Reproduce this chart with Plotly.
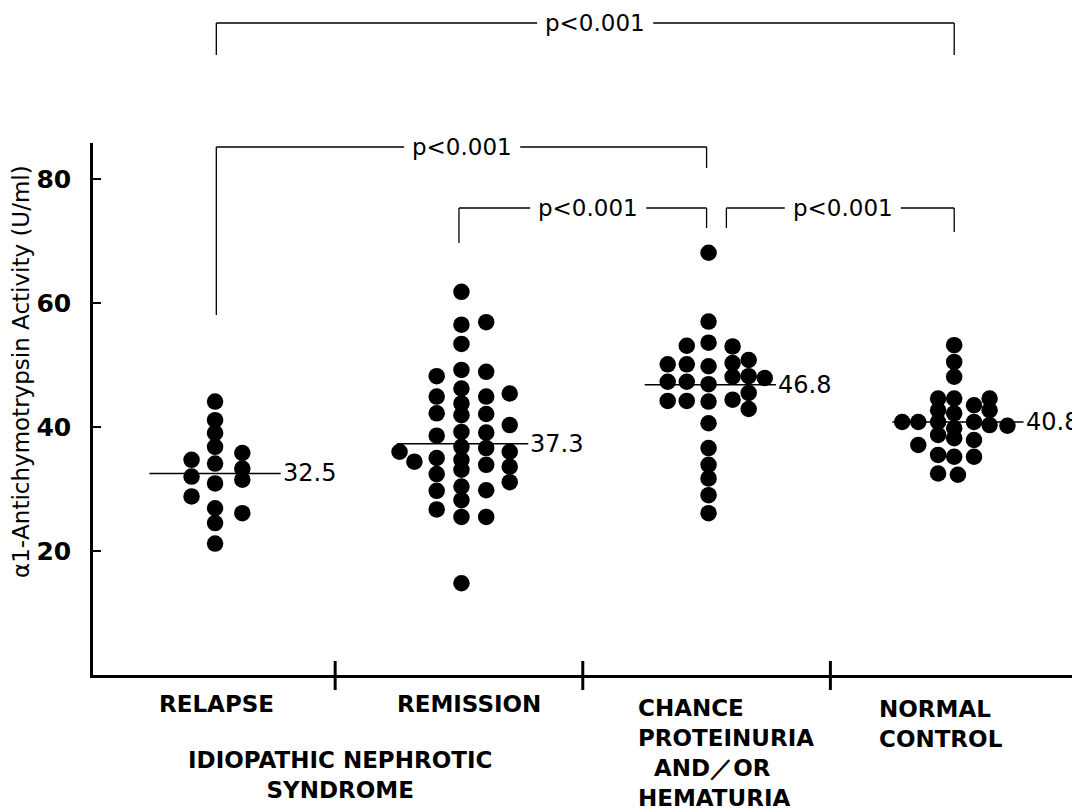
import plotly.graph_objects as go

# ---------------- data ----------------
groups = ["RELAPSE", "REMISSION", "CHANCE", "NORMAL"]
means = [32.5, 37.3, 46.8, 40.8]
mean_labels = ["32.5", "37.3", "46.8", "40.8"]

relapse_vals = [34.7, 32.0, 28.8, 44.1, 41.1, 39.0, 36.8, 34.1, 30.9, 26.9, 24.5, 21.2, 35.8, 33.3, 31.5, 26.1]
relapse_offs = [-0.08, -0.08, -0.08, 0.015, 0.015, 0.015, 0.015, 0.015, 0.015, 0.015, 0.015, 0.015,
                0.125, 0.125, 0.125, 0.125]

remission_vals = [36.0, 34.4,
                  48.2, 44.9, 42.2, 38.6, 35.0, 32.4, 29.7, 26.7,
                  61.8, 56.5, 53.4, 49.2, 46.2, 43.8, 41.9, 39.2, 36.8, 34.7, 33.1, 30.4, 28.2, 25.5, 14.8,
                  56.9, 48.9, 44.9, 42.1, 39.1, 36.6, 33.9, 29.8, 25.5,
                  45.4, 40.3, 36.0, 33.6, 31.1]
remission_offs = [-0.24, -0.18] + [-0.09] * 8 + [0.01] * 15 + [0.11] * 9 + [0.205] * 5

chance_vals = [68.1, 57.0, 53.6, 49.8, 46.9, 44.1, 40.6, 36.6, 33.9, 31.7, 29.0, 26.1,
               53.1, 50.1, 47.3, 44.2,
               50.1, 47.3, 44.2,
               53.0, 50.3, 48.1, 44.4,
               50.8, 48.2, 45.5, 42.9,
               47.9]
chance_offs = [0.008] * 12 + [-0.08] * 4 + [-0.157] * 3 + [0.105] * 4 + [0.17] * 4 + [0.235]

normal_vals = [53.2, 50.5, 48.1,
               44.6, 44.6, 44.6,
               43.5, 42.7, 42.7, 42.2,
               40.8, 40.8, 40.8, 40.8, 40.3, 40.2,
               39.8, 38.7, 38.2, 37.9, 37.1,
               35.5, 35.2, 35.2,
               32.5, 32.3]
normal_offs = [0, 0, 0,
               -0.065, 0, 0.143,
               0.08, -0.065, 0.143, 0,
               -0.21, -0.145, -0.065, 0.08, 0.143, 0.215,
               0, -0.065, 0, 0.08, -0.145,
               -0.065, 0, 0.08,
               -0.065, 0.015]

group_vals = [relapse_vals, remission_vals, chance_vals, normal_vals]
group_offs = [relapse_offs, remission_offs, chance_offs, normal_offs]

# comparisons: (group a, group b, label)
comparisons = [(0, 3, "p<0.001"), (0, 2, "p<0.001"), (1, 2, "p<0.001"), (2, 3, "p<0.001")]

# ---------------- figure ----------------
SANS = "DejaVu Sans"
fig = go.Figure()

for i, (vals, offs) in enumerate(zip(group_vals, group_offs)):
    c = i + 0.5
    fig.add_trace(go.Scatter(
        x=[c + o for o in offs], y=vals, mode="markers",
        marker=dict(size=16.5, color="black", line=dict(width=0)),
        showlegend=False, hoverinfo="y"))
    # mean line
    fig.add_trace(go.Scatter(
        x=[c - 0.25, c + 0.28], y=[means[i], means[i]], mode="lines",
        line=dict(color="black", width=1.6), showlegend=False, hoverinfo="skip"))
    fig.add_annotation(x=c + 0.28, y=means[i], text=mean_labels[i], showarrow=False,
                       xanchor="left", yanchor="middle", xshift=0,
                       font=dict(family=SANS, size=24, color="black"))

# plot area geometry helpers (paper coordinates)
H_PLOT = 532.0
W_PLOT = 985.0
PX_PER_X = 247.5
def py(px_from_axis):
    """pixels above the x axis line -> paper y"""
    return px_from_axis / H_PLOT

# x-axis tick marks crossing the axis
for t in [1, 2, 3]:
    fig.add_shape(type="line", xref="x", yref="paper", x0=t, x1=t, y0=py(-15), y1=py(14),
                  line=dict(color="black", width=3))
fig.add_shape(type="line", xref="x", yref="paper", x0=3.996, x1=3.996, y0=py(-16), y1=py(34),
              line=dict(color="black", width=3))

# brackets: (y_top_px_above_axis, left_drop_px, right_drop_px, text_x, left_x, right_x)
bracket_geom = [
    (652, 32, 32, 2.05, 0.52, 3.5),
    (528, 168, 21, 1.513, 0.52, 2.5),
    (467, 35, 20, 2.022, 1.5, 2.5),
    (467, 20, 24, 3.05, 2.58, 3.5),
]
HALF_GAP = 58 / PX_PER_X
line_style = dict(color="black", width=1.3)
for (a, b, lab), (ytop, ldrop, rdrop, tx, xa, xb) in zip(comparisons, bracket_geom):
    yy = py(ytop)
    fig.add_shape(type="line", xref="x", yref="paper", x0=xa, x1=tx - HALF_GAP, y0=yy, y1=yy, line=line_style)
    fig.add_shape(type="line", xref="x", yref="paper", x0=tx + HALF_GAP, x1=xb, y0=yy, y1=yy, line=line_style)
    fig.add_shape(type="line", xref="x", yref="paper", x0=xa, x1=xa, y0=yy, y1=py(ytop - ldrop), line=line_style)
    fig.add_shape(type="line", xref="x", yref="paper", x0=xb, x1=xb, y0=yy, y1=py(ytop - rdrop), line=line_style)
    fig.add_annotation(x=tx, xref="x", y=yy, yref="paper", text=lab, showarrow=False,
                       xanchor="center", yanchor="middle", borderpad=0,
                       font=dict(family=SANS, size=23, color="black"))

# category labels
cat_font = dict(family=SANS, size=23, color="black", weight="bold")
fig.add_annotation(x=0.52, xref="x", y=py(-14), yref="paper", text="RELAPSE", showarrow=False,
                   xanchor="center", yanchor="top", font=cat_font)
fig.add_annotation(x=1.54, xref="x", y=py(-14), yref="paper", text="REMISSION", showarrow=False,
                   xanchor="center", yanchor="top", font=cat_font)
fig.add_annotation(x=2.22, xref="x", y=py(-19), yref="paper",
                   text="CHANCE<br>PROTEINURIA<br>\u00a0\u00a0AND\uff0fOR<br>HEMATURIA", showarrow=False,
                   xanchor="left", yanchor="top", align="left", borderpad=0, font=cat_font)
fig.add_annotation(x=3.19, xref="x", y=py(-19), yref="paper", text="NORMAL<br>CONTROL", showarrow=False,
                   xanchor="left", yanchor="top", align="left", font=cat_font)
fig.add_annotation(x=1.02, xref="x", y=py(-70), yref="paper", text="IDIOPATHIC NEPHROTIC<br>SYNDROME",
                   showarrow=False, xanchor="center", yanchor="top", align="center", font=cat_font)

# y-axis title
fig.add_annotation(x=(21 - 93) / W_PLOT, xref="paper", y=py(303), yref="paper",
                   text="\u03b11-Antichymotrypsin Activity (U/ml)", textangle=-90, showarrow=False,
                   xanchor="center", yanchor="middle", borderpad=0,
                   font=dict(family=SANS, size=23, color="black"))

# page body has an 8px margin: shift figure so plot area lands on the reference pixels
fig.update_layout(
    width=1072, height=804,
    margin=dict(l=85, r=2, t=135, b=137),
    paper_bgcolor="white", plot_bgcolor="white",
    showlegend=False,
    xaxis=dict(range=[0.022, 4], showline=True, linecolor="black", linewidth=2.5,
               showgrid=False, zeroline=False, showticklabels=False, ticks=""),
    yaxis=dict(range=[0, 85.8], showline=True, linecolor="black", linewidth=2.5,
               showgrid=False, zeroline=False, ticks="inside", ticklen=8, tickwidth=2,
               tickcolor="black", tickvals=[20, 40, 60, 80], ticklabelstandoff=14,
               tickfont=dict(family=SANS, size=25, color="black", weight="bold")),
)

fig.write_html("out.html")
